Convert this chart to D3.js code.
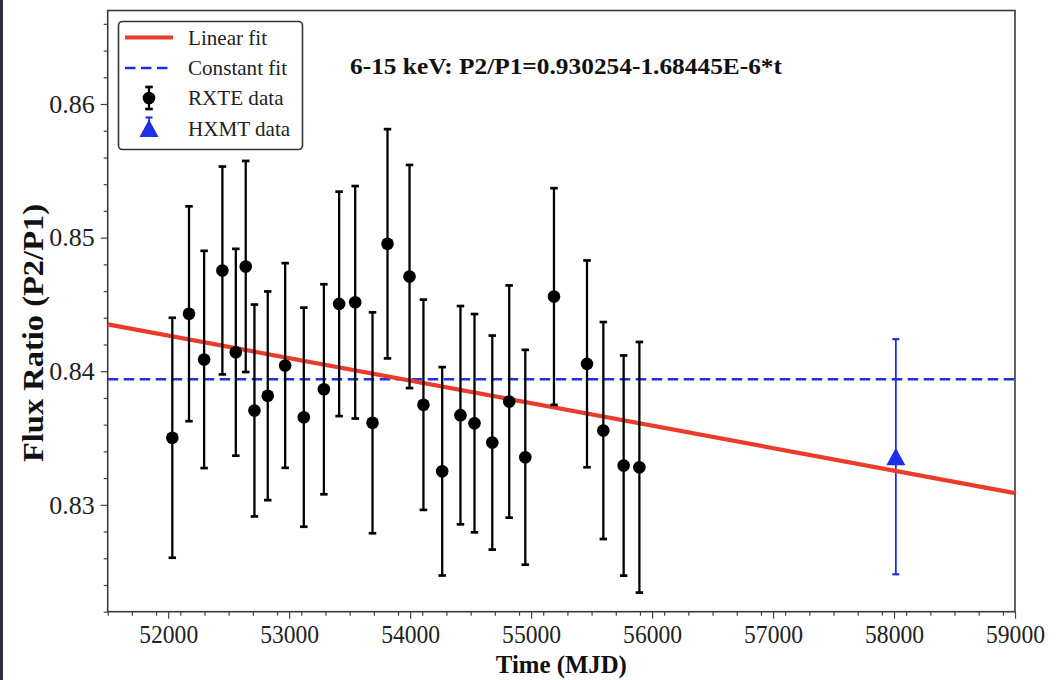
<!DOCTYPE html>
<html>
<head>
<meta charset="utf-8">
<script src="https://cdn.jsdelivr.net/npm/d3@7"></script>
<style>
  html, body { margin: 0; padding: 0; background: #ffffff; }
  svg { display: block; }
  text { font-family: "Liberation Serif", "Times New Roman", serif; }
</style>
</head>
<body>
<svg id="chart" width="1056" height="680"></svg>
<script>
// RXTE pulse-profile flux ratio measurements (MJD, P2/P1, 1-sigma error)
const rxteMJD = [52034, 52172, 52297, 52448, 52559, 52641, 52713, 52823, 52967, 53121,
                 53287, 53413, 53546, 53689, 53813, 53995, 54110, 54265, 54416, 54532,
                 54679, 54819, 54952, 55189, 55462, 55597, 55765, 55895];
const rxteRatio = [0.83502, 0.84430, 0.84088, 0.84754, 0.84142, 0.84784, 0.83706, 0.83816, 0.84043, 0.83656,
                   0.83865, 0.84504, 0.84516, 0.83614, 0.84954, 0.84709, 0.83749, 0.83251, 0.83671, 0.83611,
                   0.83466, 0.83773, 0.83356, 0.84559, 0.84055, 0.83556, 0.83294, 0.83281];
const rxteErr = [0.00898, 0.00804, 0.00813, 0.00778, 0.00774, 0.00790, 0.00793, 0.00781, 0.00766, 0.00820,
                 0.00786, 0.00840, 0.00870, 0.00827, 0.00858, 0.00835, 0.00787, 0.00780, 0.00817, 0.00817,
                 0.00801, 0.00869, 0.00804, 0.00811, 0.00774, 0.00812, 0.00824, 0.00938];

// Insight-HXMT measurement
const hxmtMJD = [58015];
const hxmtRatio = [0.8336];
const hxmtErr = [0.0088];

// Fits: linear P2/P1 = a + b*t, and constant level
const linIntercept = 0.930254;
const linSlope = -1.68445e-6;
const constLevel = 0.8394;

// Axis ranges and ticks
const xDomain = [51500, 59000];
const yDomain = [0.822, 0.867];
const xMajorTicks = [52000, 53000, 54000, 55000, 56000, 57000, 58000, 59000];
const yMajorTicks = [0.83, 0.84, 0.85, 0.86];

const legendLabels = ["Linear fit", "Constant fit", "RXTE data", "HXMT data"];
const annotationText = "6-15 keV: P2/P1=0.930254-1.68445E-6*t";

const svg = d3.select("#chart");
const W = 1056, H = 680;
const M = { left: 107.7, right: 1015, top: 10.5, bottom: 611.7 };

const x = d3.scaleLinear().domain(xDomain).range([M.left, M.right]);
const y = d3.scaleLinear().domain(yDomain).range([M.bottom, M.top]);

svg.append("rect").attr("width", W).attr("height", H).attr("fill", "#ffffff");
// dark strip along the left edge of the figure
svg.append("rect").attr("x", 0).attr("y", 0).attr("width", 3).attr("height", H).attr("fill", "#2b2d38");

const red = "#ea3b2b";
const blue = "#1f2fe8";

// ---- axes ----
const xMinor = d3.range(xDomain[0], xDomain[1] + 1, 200).filter(v => v % 1000 !== 0);
const yMinor = d3.range(0, 23).map(i => +(0.822 + i * 0.002).toFixed(3))
  .filter(v => Math.abs(v * 100 - Math.round(v * 100)) > 1e-6 && v <= yDomain[1]);

const xAxis = svg.append("g").attr("transform", `translate(0,${M.bottom})`)
  .call(d3.axisBottom(x).tickValues(xMajorTicks).tickFormat(d3.format("d")).tickSize(7).tickPadding(5));
const xAxisMinor = svg.append("g").attr("transform", `translate(0,${M.bottom})`)
  .call(d3.axisBottom(x).tickValues(xMinor).tickFormat("").tickSize(4));
const yAxis = svg.append("g").attr("transform", `translate(${M.left},0)`)
  .call(d3.axisLeft(y).tickValues(yMajorTicks).tickFormat(d3.format(".2f")).tickSize(7).tickPadding(6));
const yAxisMinor = svg.append("g").attr("transform", `translate(${M.left},0)`)
  .call(d3.axisLeft(y).tickValues(yMinor).tickFormat("").tickSize(4));

[xAxis, xAxisMinor, yAxis, yAxisMinor].forEach(g => {
  g.select(".domain").remove();
  g.selectAll(".tick line").attr("stroke", "#444").attr("stroke-width", 1.2);
});
xAxis.selectAll(".tick text")
  .attr("font-size", 26).attr("fill", "#222")
  .attr("dy", "0.76em")
  .attr("textLength", 59).attr("lengthAdjust", "spacingAndGlyphs");
yAxis.selectAll(".tick text")
  .attr("font-size", 26).attr("fill", "#222");

// plot frame
svg.append("rect")
  .attr("x", M.left).attr("y", M.top)
  .attr("width", M.right - M.left).attr("height", M.bottom - M.top)
  .attr("fill", "none").attr("stroke", "#3a3a3a").attr("stroke-width", 1.6);

// axis titles
svg.append("text")
  .attr("x", (M.left + M.right) / 2).attr("y", 673)
  .attr("text-anchor", "middle").attr("font-weight", "bold").attr("font-size", 26).attr("fill", "#111")
  .attr("textLength", 131).attr("lengthAdjust", "spacingAndGlyphs")
  .text("Time (MJD)");
svg.append("text")
  .attr("transform", `translate(43,333) scale(0.88,1) rotate(-90)`)
  .attr("text-anchor", "middle").attr("font-weight", "bold").attr("font-size", 32.5).attr("fill", "#111")
  .text("Flux Ratio (P2/P1)");

// ---- data layers ----
const plot = svg.append("g");

// constant fit
plot.append("line")
  .attr("x1", x(xDomain[0])).attr("x2", x(xDomain[1]))
  .attr("y1", y(constLevel)).attr("y2", y(constLevel))
  .attr("stroke", blue).attr("stroke-width", 2.6).attr("stroke-dasharray", "10.5,5.5");

function errorBars(g, xs, vs, es, color, lw, capW) {
  const sel = g.selectAll(null).data(xs.map((d, i) => ({ t: d, v: vs[i], e: es[i] }))).enter().append("g");
  sel.append("line")
    .attr("x1", d => x(d.t)).attr("x2", d => x(d.t))
    .attr("y1", d => y(d.v - d.e)).attr("y2", d => y(d.v + d.e))
    .attr("stroke", color).attr("stroke-width", lw);
  [-1, 1].forEach(s => {
    sel.append("line")
      .attr("x1", d => x(d.t) - capW / 2).attr("x2", d => x(d.t) + capW / 2)
      .attr("y1", d => y(d.v + s * d.e)).attr("y2", d => y(d.v + s * d.e))
      .attr("stroke", color).attr("stroke-width", lw + 0.4);
  });
  return sel;
}

// HXMT error bar and triangle
const hx = errorBars(plot, hxmtMJD, hxmtRatio, hxmtErr, blue, 1.8, 7);
hx.append("path")
  .attr("d", "M0,-9L9.5,8.5L-9.5,8.5Z")
  .attr("transform", d => `translate(${x(d.t)},${y(d.v)})`)
  .attr("fill", blue);

// linear fit
plot.append("line")
  .attr("x1", x(xDomain[0])).attr("x2", x(xDomain[1]))
  .attr("y1", y(linIntercept + linSlope * xDomain[0]))
  .attr("y2", y(linIntercept + linSlope * xDomain[1]))
  .attr("stroke", red).attr("stroke-width", 4.2);

// RXTE points
const rx = errorBars(plot, rxteMJD, rxteRatio, rxteErr, "#000", 2.3, 7.5);
rx.append("circle")
  .attr("cx", d => x(d.t)).attr("cy", d => y(d.v)).attr("r", 6.3)
  .attr("fill", "#000");

// ---- annotation ----
svg.append("text")
  .attr("x", 350).attr("y", 73.5)
  .attr("font-weight", "bold").attr("font-size", 22.5).attr("fill", "#111")
  .attr("textLength", 432).attr("lengthAdjust", "spacingAndGlyphs")
  .text(annotationText);

// ---- legend ----
const lg = svg.append("g");
lg.append("rect")
  .attr("x", 118.5).attr("y", 21.5).attr("width", 184).attr("height", 128).attr("rx", 4)
  .attr("fill", "#fff").attr("stroke", "#333").attr("stroke-width", 1.6);
const rowY = [37.5, 68, 98, 128.5];
const hx0 = 125, hx1 = 173, hc = 149;
lg.append("line").attr("x1", hx0).attr("x2", hx1).attr("y1", rowY[0]).attr("y2", rowY[0])
  .attr("stroke", red).attr("stroke-width", 4.2);
lg.append("line").attr("x1", hx0).attr("x2", hx1).attr("y1", rowY[1]).attr("y2", rowY[1])
  .attr("stroke", blue).attr("stroke-width", 2.6).attr("stroke-dasharray", "10.5,5.5");
// RXTE handle
lg.append("line").attr("x1", hc).attr("x2", hc).attr("y1", rowY[2] - 11).attr("y2", rowY[2] + 11)
  .attr("stroke", "#000").attr("stroke-width", 2.3);
[-11, 11].forEach(o => lg.append("line").attr("x1", hc - 3.8).attr("x2", hc + 3.8)
  .attr("y1", rowY[2] + o).attr("y2", rowY[2] + o).attr("stroke", "#000").attr("stroke-width", 2.7));
lg.append("circle").attr("cx", hc).attr("cy", rowY[2]).attr("r", 6.3).attr("fill", "#000");
// HXMT handle
lg.append("line").attr("x1", hc).attr("x2", hc).attr("y1", rowY[3] - 11).attr("y2", rowY[3] + 6)
  .attr("stroke", blue).attr("stroke-width", 1.8);
lg.append("line").attr("x1", hc - 3.5).attr("x2", hc + 3.5).attr("y1", rowY[3] - 11).attr("y2", rowY[3] - 11)
  .attr("stroke", blue).attr("stroke-width", 2.2);
lg.append("path").attr("d", "M0,-9L9.5,8.5L-9.5,8.5Z")
  .attr("transform", `translate(${hc},${rowY[3]})`).attr("fill", blue);

lg.selectAll("text.lbl").data(legendLabels).enter().append("text")
  .attr("class", "lbl")
  .attr("x", 188).attr("y", (d, i) => rowY[i] + 7.5)
  .attr("font-size", 22).attr("fill", "#222")
  .attr("transform", "translate(188,0) scale(0.96,1) translate(-188,0)")
  .text(d => d);
</script>
</body>
</html>
